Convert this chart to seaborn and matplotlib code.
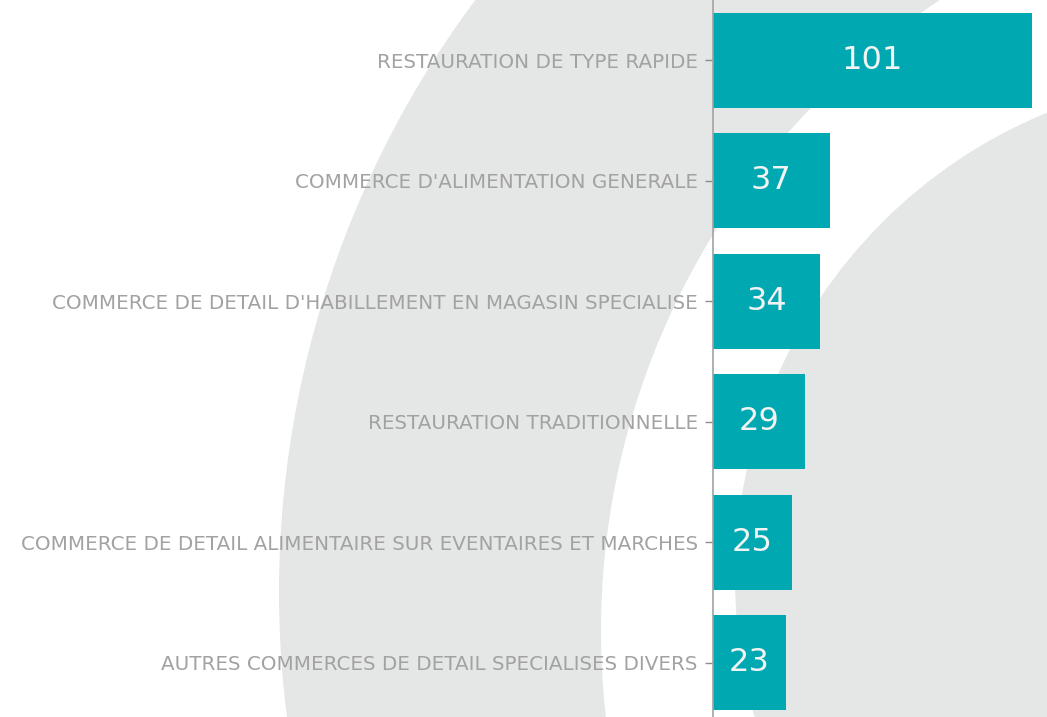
import matplotlib
matplotlib.use("Agg")
import matplotlib.pyplot as plt
from matplotlib.patches import Circle
import seaborn as sns

# DATA
categories = [
    "RESTAURATION DE TYPE RAPIDE",
    "COMMERCE D'ALIMENTATION GENERALE",
    "COMMERCE DE DETAIL D'HABILLEMENT EN MAGASIN SPECIALISE",
    "RESTAURATION TRADITIONNELLE",
    "COMMERCE DE DETAIL ALIMENTAIRE SUR EVENTAIRES ET MARCHES",
    "AUTRES COMMERCES DE DETAIL SPECIALISES DIVERS",
]
counts = [101, 37, 34, 29, 25, 23]

# STYLE
BAR_COLOR = "#00a8b1"
ARC_COLOR = "#e5e6e6"
TEXT_GRAY = "#a2a2a2"

sns.set_style("white")
plt.rcParams["font.family"] = ["DejaVu Sans"]

fig = plt.figure(figsize=(10.47, 7.17), dpi=100)

# BACKGROUND ARCS (decoration, in pixel space)
bg = fig.add_axes([0, 0, 1, 1], zorder=0)
bg.set_xlim(0, 1047)
bg.set_ylim(717, 0)
bg.axis("off")
bg.add_patch(Circle((1270, 592), 991, color=ARC_COLOR, lw=0))
bg.add_patch(Circle((1358, 631), 757, color="white", lw=0))
bg.add_patch(Circle((1238, 578), 503, color=ARC_COLOR, lw=0))

# BAR CHART
ax = fig.add_axes([713 / 1047, 0, 334 / 1047, 1], zorder=1)
ax.patch.set_alpha(0)
sns.barplot(x=counts, y=categories, orient="h", color=BAR_COLOR,
            saturation=1, width=0.79, linewidth=0, ax=ax)

ax.set_xlim(0, 105.8)
ax.set_ylim(5.45, -0.5)
ax.set_xlabel("")
ax.set_ylabel("")
ax.set_xticks([])

for side in ["top", "right", "bottom"]:
    ax.spines[side].set_visible(False)
ax.spines["left"].set_color(TEXT_GRAY)
ax.spines["left"].set_linewidth(1.2)

ax.tick_params(axis="y", length=6, width=1, color="#8c8c8c",
               labelcolor=TEXT_GRAY, labelsize=14.3, pad=5, left=True)
for lbl in ax.get_yticklabels():
    lbl.set_va("center_baseline")

ax.bar_label(ax.containers[0], label_type="center",
             color="#f2f4f4", fontsize=23)

fig.savefig("out.png", dpi=100)
